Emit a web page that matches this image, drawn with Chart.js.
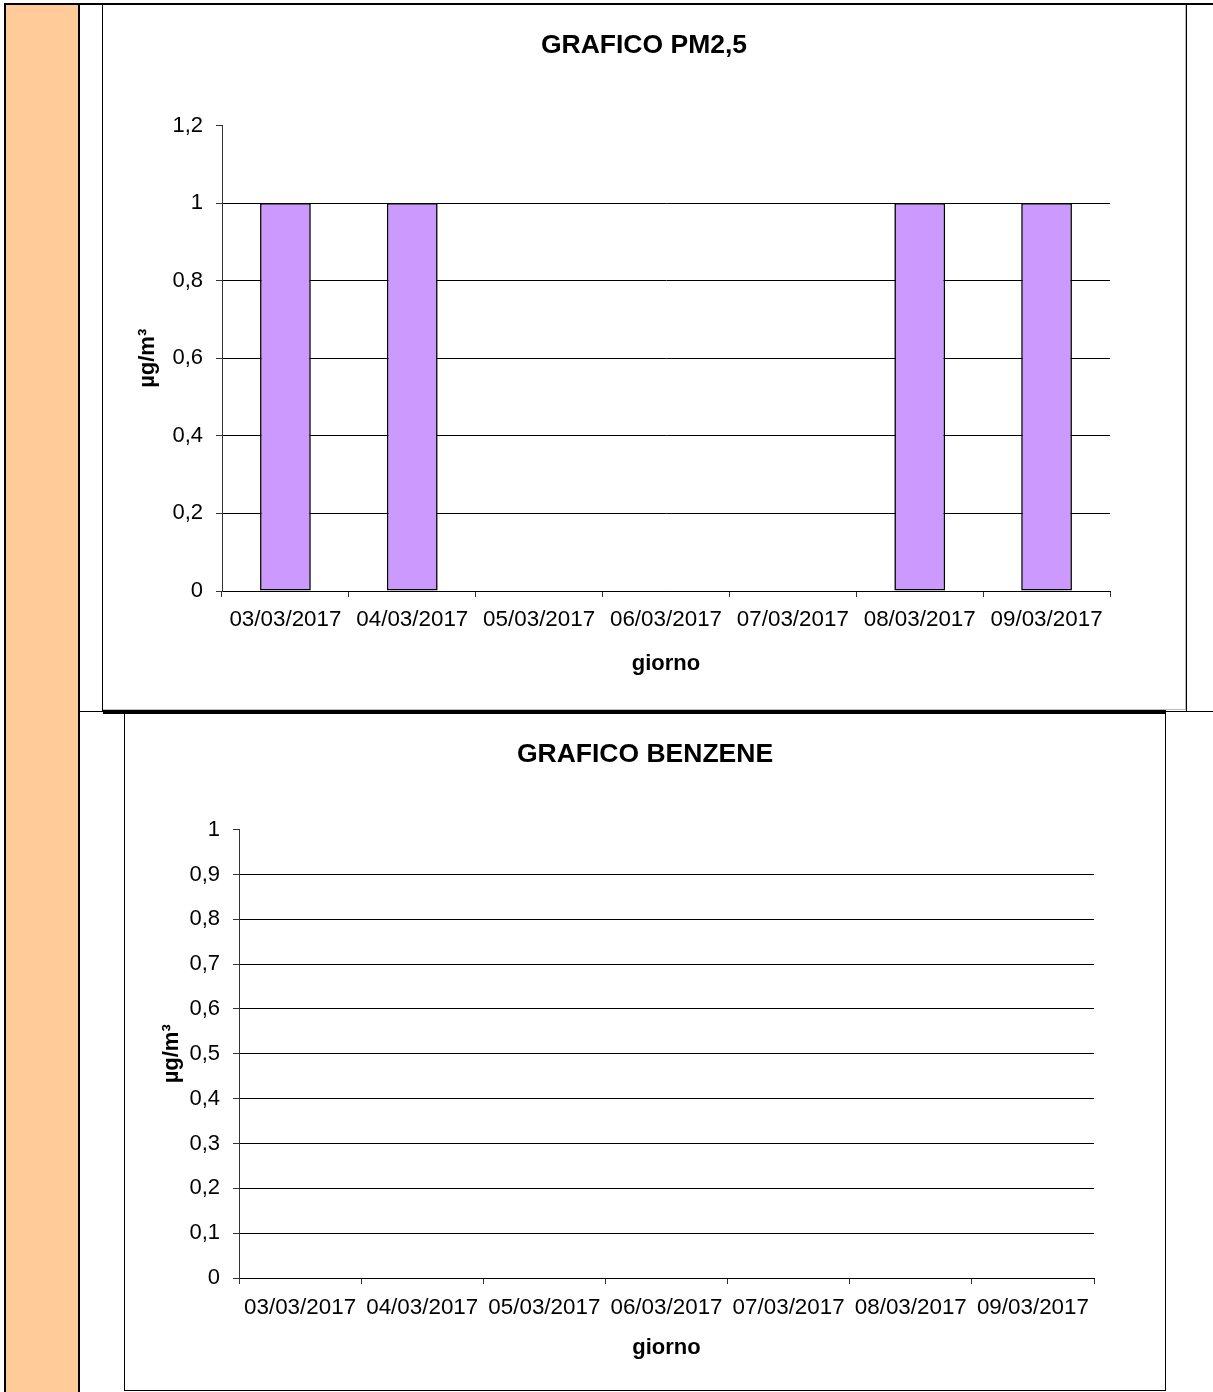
<!DOCTYPE html>
<html>
<head>
<meta charset="utf-8">
<script src="https://cdn.jsdelivr.net/npm/chart.js@4.4.0/dist/chart.umd.min.js"></script>
<style>
  html, body { margin: 0; padding: 0; background: #fff; }
  body { width: 1213px; height: 1392px; position: relative; overflow: hidden; }
  .abs { position: absolute; }
  canvas { display: block; }
</style>
</head>
<body>
<!-- table frame -->
<div class="abs" style="left:6px;top:5px;width:72px;height:1387px;background:#FFCC99;"></div>
<div class="abs" style="left:4px;top:3px;width:2px;height:1389px;background:#000;"></div>
<div class="abs" style="left:78px;top:3px;width:2px;height:1389px;background:#000;"></div>
<div class="abs" style="left:4px;top:3px;width:1209px;height:2px;background:#000;"></div>
<div class="abs" style="left:1186px;top:3px;width:1px;height:709px;background:#000;"></div>
<div class="abs" style="left:78px;top:711px;width:1135px;height:1px;background:#000;"></div>

<!-- top chart box -->
<div class="abs" style="left:102px;top:5px;width:1px;height:707px;background:#000;"></div>
<div class="abs" style="left:1185px;top:5px;width:1px;height:705px;background:#bbb;"></div>
<div class="abs" style="left:103px;top:709px;width:1083px;height:1px;background:#bbb;"></div>
<div class="abs" style="left:103px;top:5px;width:1082px;height:704px;">
  <canvas id="c1" width="1082" height="704"></canvas>
</div>

<!-- bottom chart box -->
<div class="abs" style="left:103px;top:710px;width:1063px;height:4px;background:#000;"></div>
<div class="abs" style="left:124px;top:712px;width:1px;height:679px;background:#000;"></div>
<div class="abs" style="left:1165px;top:712px;width:1px;height:679px;background:#000;"></div>
<div class="abs" style="left:124px;top:1390px;width:1042px;height:1px;background:#000;"></div>
<div class="abs" style="left:125px;top:714px;width:1040px;height:676px;">
  <canvas id="c2" width="1040" height="676"></canvas>
</div>

<script>
// ---- data ----
const categories = ['03/03/2017', '04/03/2017', '05/03/2017', '06/03/2017', '07/03/2017', '08/03/2017', '09/03/2017'];
const pm25Values = [1, 1, null, null, null, 1, 1];
const benzeneValues = [null, null, null, null, null, null, null];
const pm25Ticks = { min: 0, max: 1.2, step: 0.2 };
const benzeneTicks = { min: 0, max: 1, step: 0.1 };
const titlePM = 'GRAFICO PM2,5';
const titleBZ = 'GRAFICO BENZENE';
const xTitle = 'giorno';
const yTitle = 'µg/m³';

const FONT = "'Liberation Sans', Arial, sans-serif";
const fmt = v => (Math.round(v * 10) / 10).toString().replace('.', ',');

function makeChart(id, title, values, yr, g) {
  return new Chart(document.getElementById(id), {
    type: 'bar',
    data: {
      labels: categories,
      datasets: [{
        data: values,
        yAxisID: 'y',
        backgroundColor: '#CC99FF',
        borderColor: '#000',
        borderWidth: 1.6,
        borderSkipped: false,
        categoryPercentage: 1,
        barPercentage: 0.40
      }]
    },
    options: {
      responsive: false,
      animation: false,
      devicePixelRatio: 1,
      layout: { padding: 0 },
      plugins: {
        legend: { display: false },
        tooltip: { enabled: false },
        title: {
          display: true,
          text: title,
          color: '#000',
          font: { family: FONT, size: 26.5, weight: 'bold', lineHeight: 1.2 },
          padding: { top: g.titleTop, bottom: g.titleBottom }
        }
      },
      scales: {
        x: {
          type: 'category',
          offset: true,
          afterFit: s => { s.height = g.xHeight; },
          grid: {
            offset: true,
            drawOnChartArea: false,
            drawTicks: true,
            tickLength: 6,
            tickColor: '#333',
            color: '#333'
          },
          border: { display: true, color: '#000', width: 1 },
          ticks: {
            autoSkip: false,
            maxRotation: 0,
            minRotation: 0,
            padding: g.xTickPad,
            color: '#000',
            font: { family: FONT, size: 22.4 }
          },
          title: {
            display: true,
            text: xTitle,
            color: '#000',
            font: { family: FONT, size: 22, weight: 'bold', lineHeight: 1.2 },
            padding: { top: 0, bottom: g.xTitlePad }
          }
        },
        y: {
          position: 'left',
          min: yr.min,
          max: yr.max,
          afterFit: s => { s.width = g.yWidth; },
          grid: {
            drawTicks: true,
            tickLength: 6,
            tickColor: '#333',
            color: ctx => (ctx.tick && Math.abs(ctx.tick.value - yr.max) < 1e-9) ? 'rgba(0,0,0,0)' : '#000',
            lineWidth: 1
          },
          border: { display: true, color: '#333', width: 1 },
          ticks: {
            stepSize: yr.step,
            padding: 13,
            color: '#000',
            font: { family: FONT, size: 22 },
            callback: v => fmt(v)
          },
          title: {
            display: true,
            text: yTitle,
            color: '#000',
            font: { family: FONT, size: 22, weight: 'bold', lineHeight: 1.2 },
            padding: { top: g.yTitlePad, bottom: 0 }
          }
        },
        spacer: {
          type: 'linear',
          position: 'right',
          display: true,
          afterFit: s => { s.width = g.right; },
          grid: { display: false, drawOnChartArea: false, drawTicks: false },
          border: { display: false },
          ticks: { display: false },
          title: { display: false }
        }
      }
    }
  });
}

makeChart('c1', titlePM, pm25Values, pm25Ticks, {
  right: 75, titleTop: 24.4, titleBottom: 64.4, xHeight: 118, xTickPad: 9, xTitlePad: 31.8, yWidth: 119, yTitlePad: 31.8
});
makeChart('c2', titleBZ, benzeneValues, benzeneTicks, {
  right: 71, titleTop: 24.4, titleBottom: 59.4, xHeight: 112, xTickPad: 10, xTitlePad: 29, yWidth: 114, yTitlePad: 33.8
});
</script>
</body>
</html>
